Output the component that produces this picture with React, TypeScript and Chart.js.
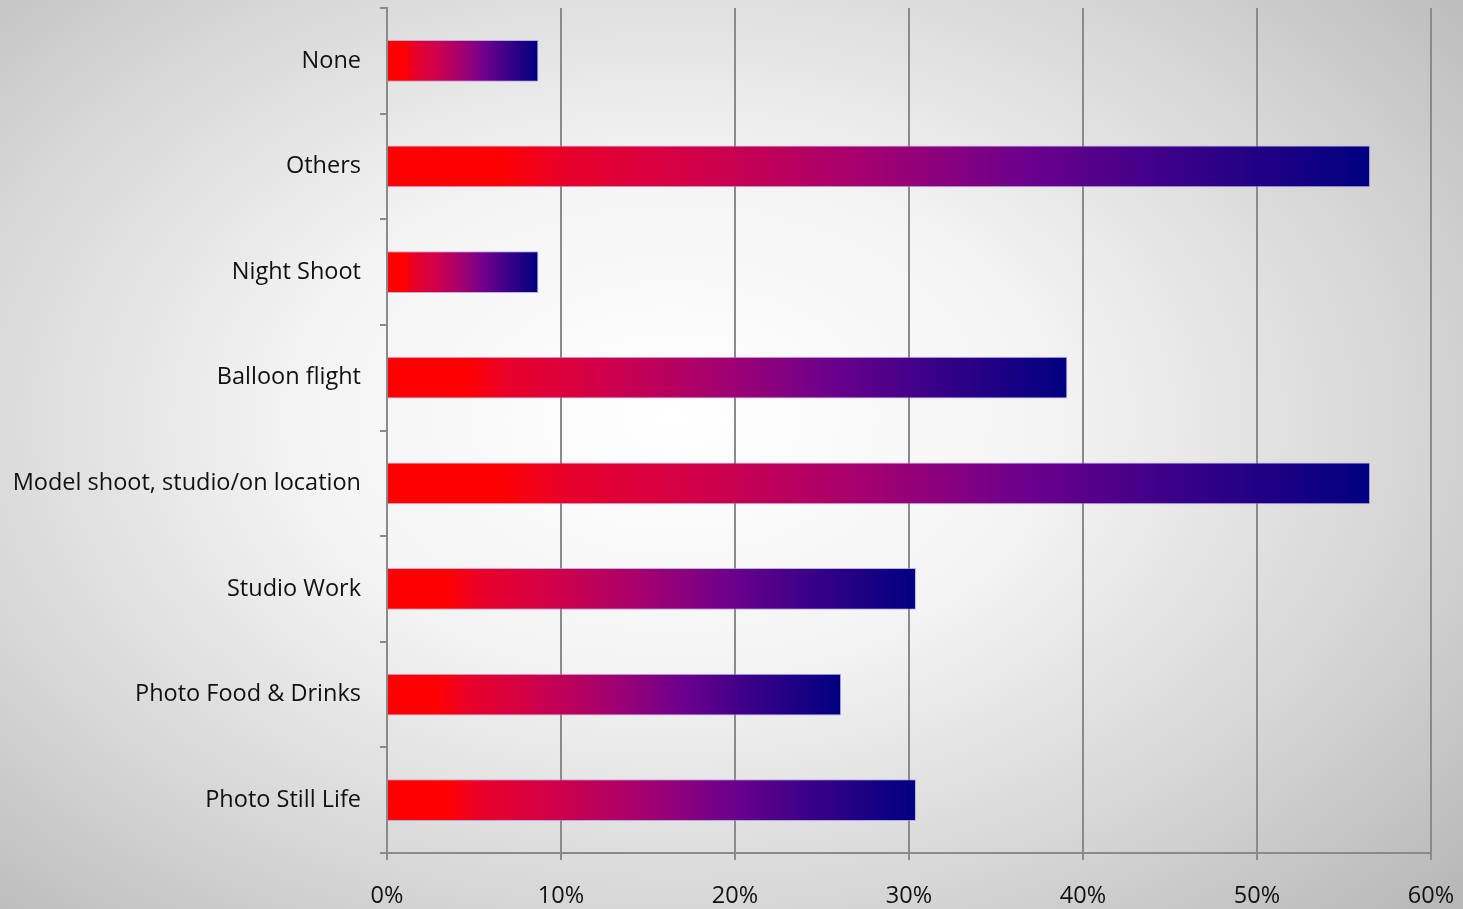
import React, { useEffect, useRef } from "react";
import { Chart, registerables } from "chart.js";

Chart.register(...registerables);

const categories = [
  "None",
  "Others",
  "Night Shoot",
  "Balloon flight",
  "Model shoot, studio/on location",
  "Studio Work",
  "Photo Food & Drinks",
  "Photo Still Life",
];
const values = [8.7, 56.5, 8.7, 39.1, 56.5, 30.4, 26.1, 30.4];
const xTicks = [0, 10, 20, 30, 40, 50, 60];

const gradStops: [number, string][] = [
  [0, "#ff0000"],
  [0.11, "#ff0000"],
  [0.18, "#e8002a"],
  [0.32, "#d0004a"],
  [0.5, "#a00072"],
  [0.65, "#6c008c"],
  [0.8, "#3a0088"],
  [1, "#000080"],
];

const FONT = "'Open Sans', Lato, sans-serif";

export default function App() {
  const ref = useRef<HTMLCanvasElement | null>(null);

  useEffect(() => {
    document.body.style.margin = "0";
    const canvas = ref.current;
    if (!canvas) return;
    const chart = new Chart(canvas, {
      type: "bar",
      data: {
        labels: categories,
        datasets: [
          {
            data: values,
            backgroundColor: (ctx: any) => {
              const c = ctx.chart;
              const xs = c.scales && c.scales.x;
              if (!c.chartArea || !xs) return "#a00072";
              const v = values[ctx.dataIndex] ?? 0;
              const x0 = xs.getPixelForValue(0);
              const x1 = xs.getPixelForValue(v);
              const g = c.ctx.createLinearGradient(x0, 0, Math.max(x1, x0 + 1), 0);
              gradStops.forEach(([o, col]) => g.addColorStop(o, col));
              return g;
            },
            borderColor: "rgba(160,150,220,0.7)",
            borderWidth: 1,
            borderSkipped: "start",
            barPercentage: 0.79,
            categoryPercentage: 0.5,
          },
        ],
      },
      options: {
        indexAxis: "y",
        animation: false,
        responsive: false,
        maintainAspectRatio: false,
        layout: { padding: { top: 8, right: 32, left: 0, bottom: 0 } },
        plugins: {
          legend: { display: false },
          tooltip: { enabled: false },
        },
        scales: {
          x: {
            min: 0,
            max: 60,
            afterBuildTicks: (scale: any) => {
              scale.ticks = xTicks.map((v) => ({ value: v }));
            },
            afterFit: (scale: any) => {
              scale.height = 56;
              scale.paddingLeft = 0;
              scale.paddingRight = 0;
            },
            ticks: {
              callback: (v: any) => v + "%",
              color: "#111111",
              font: { family: FONT, size: 23.5 },
              padding: 22,
              maxRotation: 0,
            },
            grid: {
              color: "#8a8a8a",
              lineWidth: 2,
              drawTicks: true,
              tickLength: 7,
            },
            border: { color: "#8a8a8a", width: 2 },
          },
          y: {
            afterFit: (scale: any) => {
              scale.width = 387;
              scale.paddingTop = 0;
              scale.paddingBottom = 0;
            },
            ticks: {
              color: "#111111",
              font: { family: FONT, size: 23.5 },
              padding: 19,
            },
            grid: {
              offset: true,
              drawOnChartArea: false,
              drawTicks: true,
              tickLength: 7,
              color: "#8a8a8a",
              lineWidth: 2,
            },
            border: { color: "#8a8a8a", width: 2 },
          },
        },
      },
    } as any);
    return () => chart.destroy();
  }, []);

  return (
    <div
      style={{
        position: "fixed",
        left: 0,
        top: 0,
        width: 1463,
        height: 909,
        background:
          "radial-gradient(ellipse 72% 78% at 46% 46%, #ffffff 0%, #f4f4f4 35%, #d6d6d6 70%, #b8b8b8 100%)",
      }}
    >
      <canvas ref={ref} width={1463} height={909} style={{ display: "block" }} />
    </div>
  );
}
